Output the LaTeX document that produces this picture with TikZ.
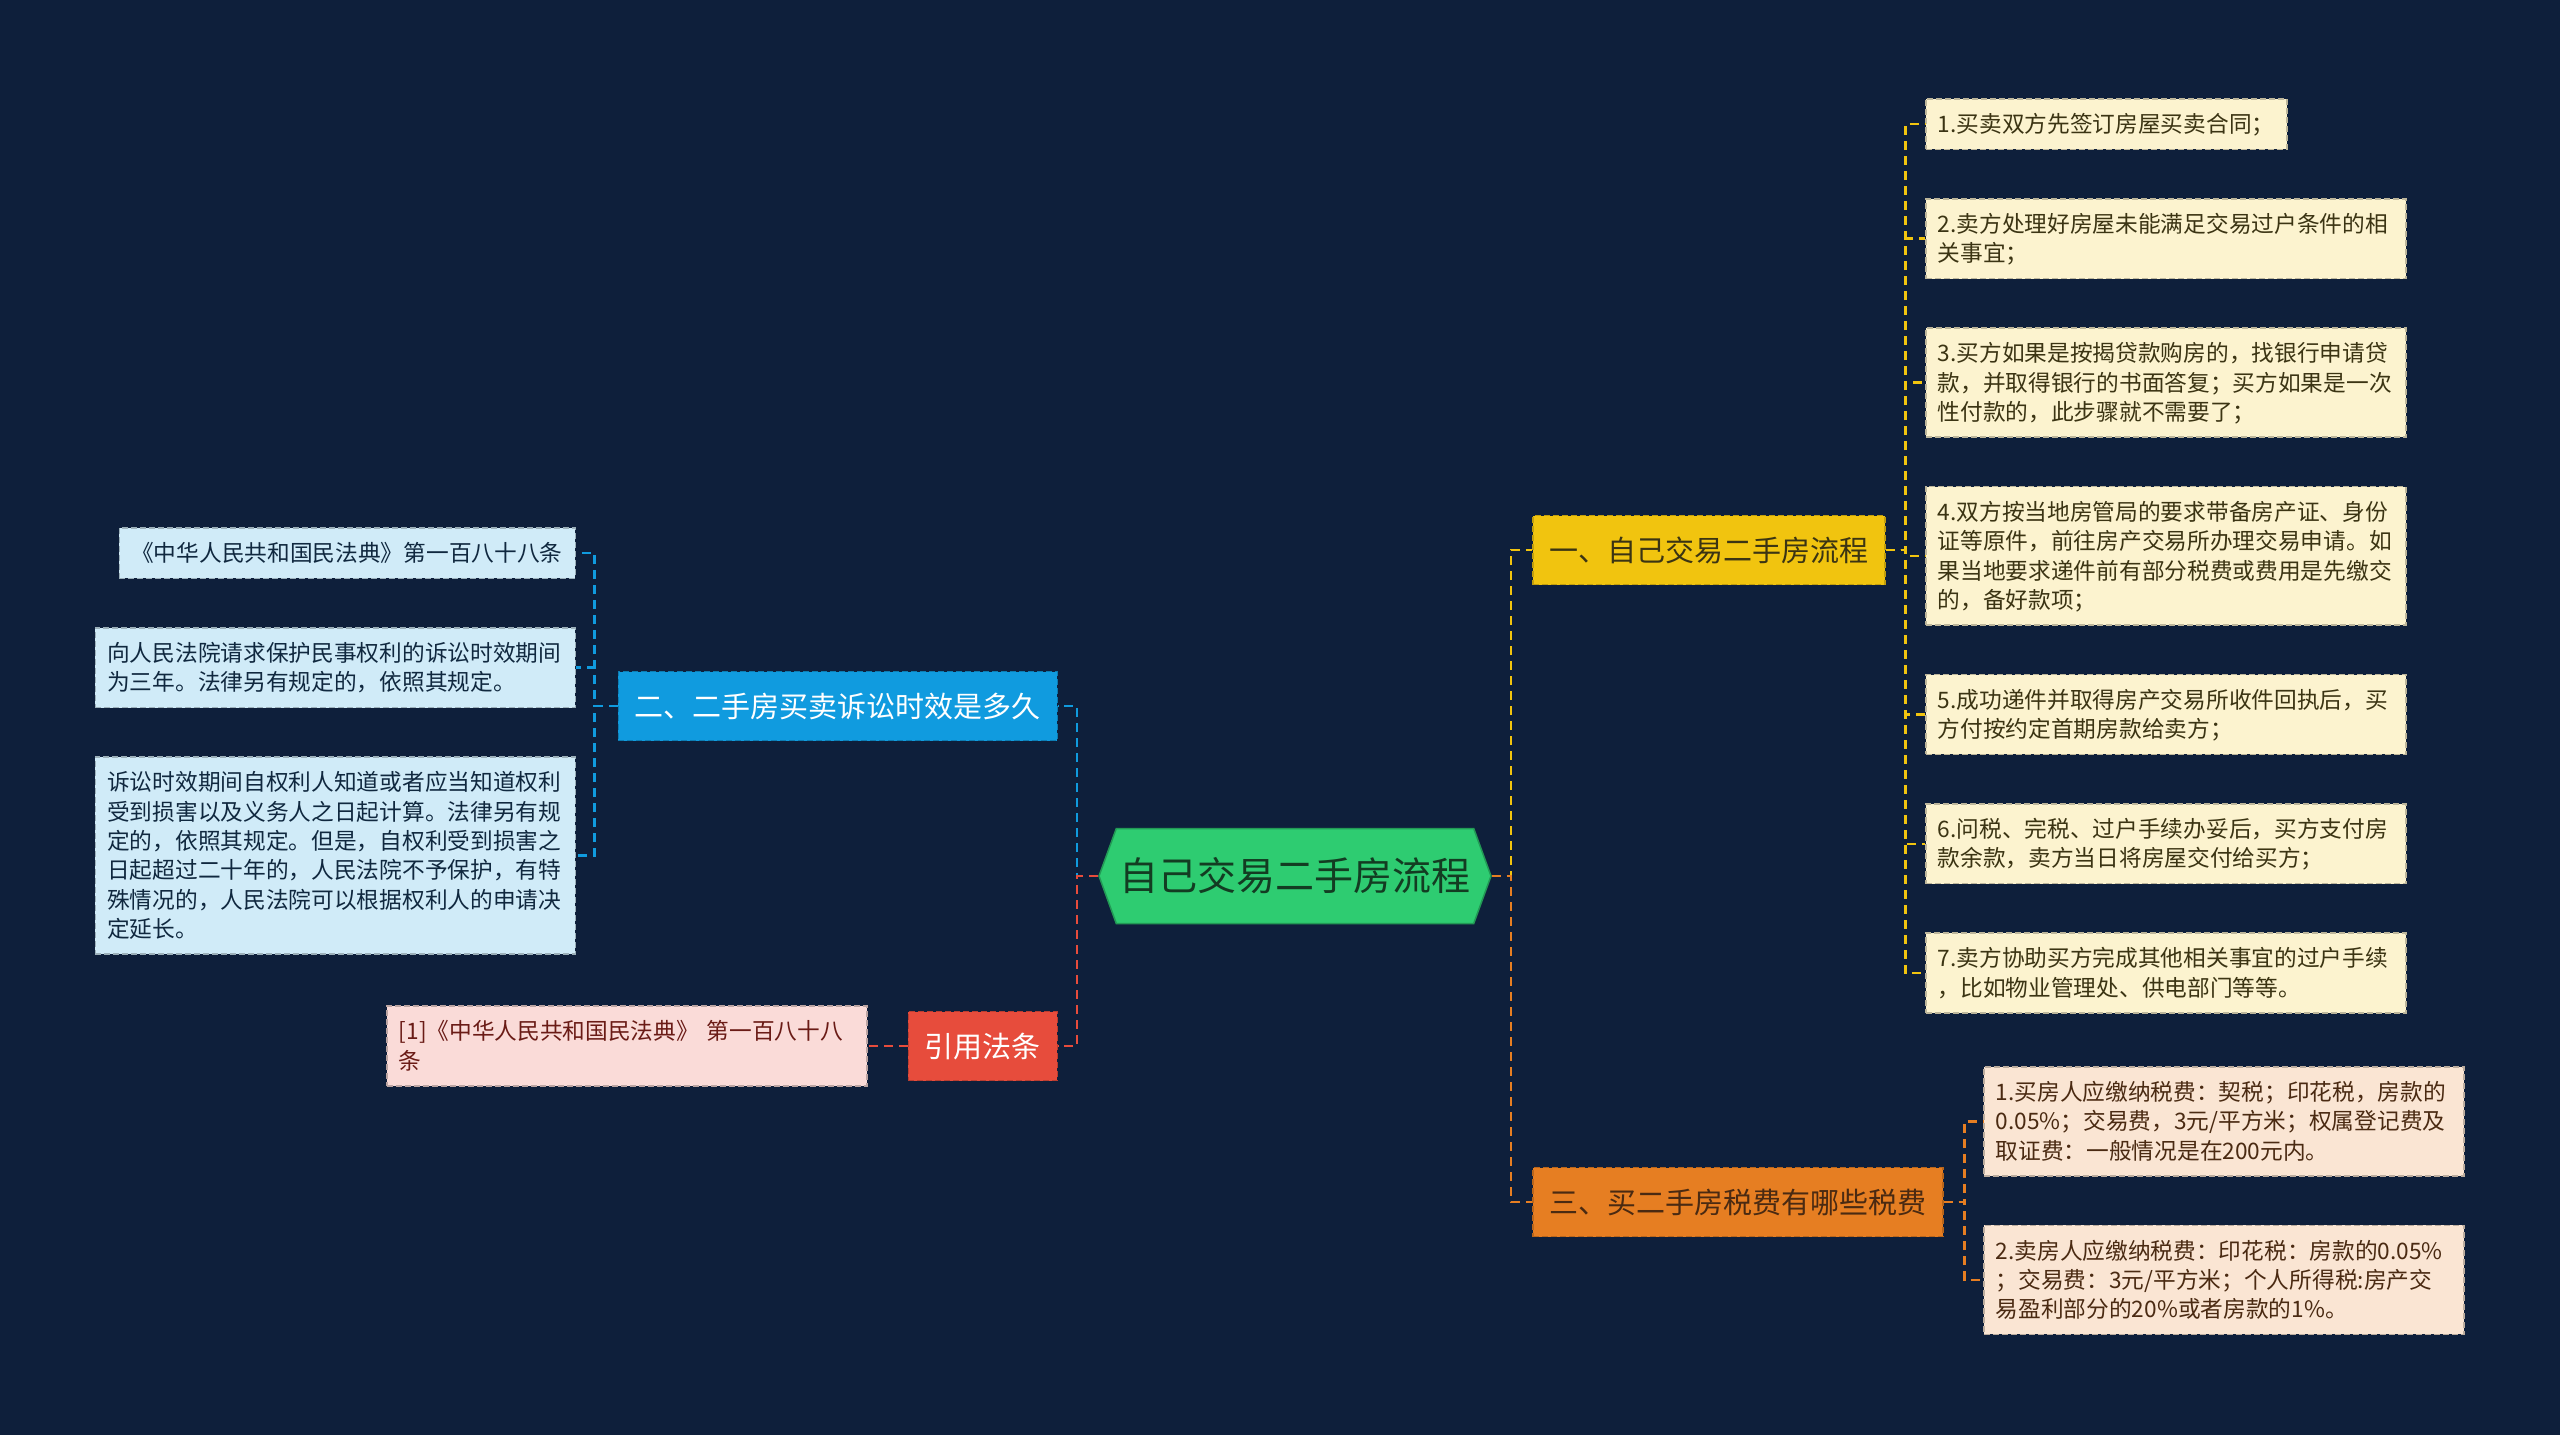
\documentclass[tikz,border=0pt]{standalone}
\usepackage{fontspec}
\setmainfont{Noto Sans CJK SC}
\usetikzlibrary{positioning,shapes.symbols}

\definecolor{bg}{HTML}{0E1F3B}
\definecolor{grn}{HTML}{2ECC71}
\definecolor{grnText}{HTML}{133C22}
\definecolor{yelMain}{HTML}{F1C40F}
\definecolor{yelLeaf}{HTML}{FCF3CF}
\definecolor{yelText}{HTML}{3B3413}
\definecolor{orgMain}{HTML}{E67E22}
\definecolor{orgLeaf}{HTML}{FAE5D3}
\definecolor{orgText}{HTML}{4A2A12}
\definecolor{bluMain}{HTML}{109BDF}
\definecolor{bluLeaf}{HTML}{D0EBF8}
\definecolor{bluText}{HTML}{10283F}
\definecolor{redMain}{HTML}{E74C3C}
\definecolor{redLeaf}{HTML}{FADBD8}
\definecolor{redText}{HTML}{6A1B16}

\newcommand\leaffont{\fontsize{22.7}{29.3}\selectfont}
\newcommand\leafstrut{\rule[-6.1pt]{0pt}{29.3pt}}
\newcommand\branchfont{\fontsize{29}{36}\selectfont}
\newcommand\branchstrut{\rule[-7pt]{0pt}{36pt}}

\begin{document}
\begin{tikzpicture}[x=1pt, y=-1pt, node distance=48pt,
  leaf/.style={dash pattern=on 6pt off 3pt, line width=1.5pt, align=left, text width=456pt, inner xsep=12pt, inner ysep=10.6pt, font=\leaffont, execute at begin node=\leafstrut, execute at end node=\leafstrut},
  yleaf/.style={leaf, fill=yelLeaf, draw=yelLeaf!75!black, text=yelText},
  oleaf/.style={leaf, fill=orgLeaf, draw=orgLeaf!75!black, text=orgText},
  bleaf/.style={leaf, fill=bluLeaf, draw=bluLeaf!75!black, text=bluText},
  rleaf/.style={leaf, fill=redLeaf, draw=redLeaf!75!black, text=redText},
  branch/.style={dash pattern=on 6pt off 3pt, line width=1.5pt, inner xsep=16.5pt, inner ysep=16.5pt, font=\branchfont, execute at begin node=\branchstrut},
  root/.style={signal, signal to=east and west, signal pointer angle=140, minimum width=392pt, minimum height=95pt, inner sep=0pt, fill=grn, draw=grn!75!black, line width=1.5pt, font=\fontsize{39}{47}\selectfont, text=grnText},
  link/.style={dash pattern=on 9pt off 6pt, line width=2.5pt},
  ylink/.style={link, draw=yelMain},
  olink/.style={link, draw=orgMain},
  blink/.style={link, draw=bluMain},
  rlink/.style={link, draw=redMain}]
\fill[bg] (0,0) rectangle (2560,1435);

\node[root] (main) at (1295,876) {自己交易二手房流程};

\node[branch, fill=yelMain, draw=yelMain!80!black, text=yelText, anchor=west] (flow) at (1532,550) {一、自己交易二手房流程};
\node[branch, fill=orgMain, draw=orgMain!80!black, text=orgText, anchor=west] (tax) at (1532,1202) {三、买二手房税费有哪些税费};
\node[branch, fill=bluMain, draw=bluMain!80!black, text=white, anchor=east] (limit) at (1058,706) {二、二手房买卖诉讼时效是多久};
\node[branch, fill=redMain, draw=redMain!80!black, text=white, anchor=east] (cite) at (1058,1046) {引用法条};

% steps
\node[yleaf, text width=337pt, anchor=north west] (f1) at (1925,98) {1.买卖双方先签订房屋买卖合同；};
\node[yleaf, below=of f1.south west, anchor=north west] (f2) {2.卖方处理好房屋未能满足交易过户条件的相\\关事宜；};
\node[yleaf, below=of f2.south west, anchor=north west] (f3) {3.买方如果是按揭贷款购房的，找银行申请贷\\款，并取得银行的书面答复；买方如果是一次\\性付款的，此步骤就不需要了；};
\node[yleaf, below=of f3.south west, anchor=north west] (f4) {4.双方按当地房管局的要求带备房产证、身份\\证等原件，前往房产交易所办理交易申请。如\\果当地要求递件前有部分税费或费用是先缴交\\的，备好款项；};
\node[yleaf, below=of f4.south west, anchor=north west] (f5) {5.成功递件并取得房产交易所收件回执后，买\\方付按约定首期房款给卖方；};
\node[yleaf, below=of f5.south west, anchor=north west] (f6) {6.问税、完税、过户手续办妥后，买方支付房\\款余款，卖方当日将房屋交付给买方；};
\node[yleaf, below=of f6.south west, anchor=north west] (f7) {7.卖方协助买方完成其他相关事宜的过户手续\\，比如物业管理处、供电部门等等。};

% taxes
\node[oleaf, anchor=north west] (t1) at (1983,1066) {1.买房人应缴纳税费：契税；印花税，房款的\\0.05\%；交易费，3元/平方米；权属登记费及\\取证费：一般情况是在200元内。};
\node[oleaf, below=of t1.south west, anchor=north west] (t2) {2.卖房人应缴纳税费：印花税：房款的0.05\%\\；交易费：3元/平方米；个人所得税:房产交\\易盈利部分的20\%或者房款的1\%。};

% limitation
\node[bleaf, text width=432pt, anchor=north east] (l1) at (576,527) {《中华人民共和国民法典》第一百八十八条};
\node[bleaf, below=of l1.south east, anchor=north east] (l2) {向人民法院请求保护民事权利的诉讼时效期间\\为三年。法律另有规定的，依照其规定。};
\node[bleaf, below=of l2.south east, anchor=north east] (l3) {诉讼时效期间自权利人知道或者应当知道权利\\受到损害以及义务人之日起计算。法律另有规\\定的，依照其规定。但是，自权利受到损害之\\日起超过二十年的，人民法院不予保护，有特\\殊情况的，人民法院可以根据权利人的申请决\\定延长。};

\node[rleaf, left=40pt of cite] (c1) {[1]《中华人民共和国民法典》 第一百八十八\\条};

\draw[ylink] (main.east) -- ++(19,0) |- (flow.west);
\draw[olink] (main.east) -- ++(19,0) |- (tax.west);
\draw[blink] (main.west) -- ++(-21,0) |- (limit.east);
\draw[rlink] (main.west) -- ++(-21,0) |- (cite.east);

\draw[ylink] (flow.east) -- ++(20,0) |- (f1.west);
\draw[ylink] (flow.east) -- ++(20,0) |- (f2.west);
\draw[ylink] (flow.east) -- ++(20,0) |- (f3.west);
\draw[ylink] (flow.east) -- ++(20,0) |- (f4.west);
\draw[ylink] (flow.east) -- ++(20,0) |- (f5.west);
\draw[ylink] (flow.east) -- ++(20,0) |- (f6.west);
\draw[ylink] (flow.east) -- ++(20,0) |- (f7.west);

\draw[olink] (tax.east) -- ++(21,0) |- (t1.west);
\draw[olink] (tax.east) -- ++(21,0) |- (t2.west);

\draw[blink] (limit.west) -- ++(-23,0) |- (l1.east);
\draw[blink] (limit.west) -- ++(-23,0) |- (l2.east);
\draw[blink] (limit.west) -- ++(-23,0) |- (l3.east);

\draw[rlink] (cite.west) -- (c1.east);
\end{tikzpicture}
\end{document}
